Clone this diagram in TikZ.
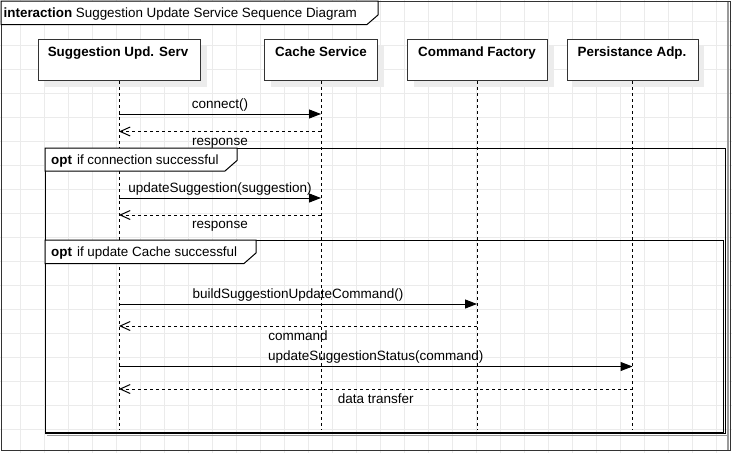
\documentclass[tikz,border=0pt]{standalone}
\usepackage{fontspec}
\setmainfont{Liberation Sans}
\usetikzlibrary{arrows.meta}
\definecolor{gridc}{HTML}{EBEBEB}
\definecolor{edgec}{HTML}{333333}
\definecolor{shadowc}{HTML}{ECECEC}
\definecolor{fshadow}{HTML}{9A9A9A}
\begin{document}
\begin{tikzpicture}[x=1pt,y=-1pt,
  gridline/.style={draw=gridc, line width=0.8pt},
  framebox/.style={draw=black, line width=1pt},
  outerbox/.style={draw=edgec, line width=1pt},
  tabshape/.style={draw=black, fill=white, line width=1pt},
  headbox/.style={draw=edgec, fill=white, line width=1pt, minimum height=41pt, inner sep=0pt, anchor=north},
  headshadow/.style={fill=shadowc, draw=none, minimum height=41pt, inner sep=0pt, anchor=north},
  headtxt/.style={font=\bfseries\fontsize{13.4}{16}\selectfont, anchor=base, inner sep=0pt},
  lifeline/.style={draw=black, line width=1pt, dash pattern=on 3pt off 3pt},
  syncmsg/.style={draw=black, line width=1pt, -{Triangle[length=12pt,width=9pt]}},
  retmsg/.style={draw=black, line width=1pt, dash pattern=on 3pt off 3pt, -{Straight Barb[length=10pt,width=9pt]}},
  lbl/.style={font=\fontsize{13.5}{16}\selectfont, inner sep=0pt, anchor=base},
  tabtxt/.style={font=\fontsize{13.4}{16}\selectfont, inner sep=0pt, anchor=base west}
]
\useasboundingbox (0,0) rectangle (732,453);
\fill[white] (0,0) rectangle (732,453);
% grid
\foreach \gx in {20,44,...,716} \draw[gridline] (\gx,0) -- (\gx,453);
\foreach \gy in {21,45,...,453} \draw[gridline] (0,\gy) -- (732,\gy);

% outer frame
\draw[fshadow, line width=1.5pt] (728,2) -- (728,450);
\draw[outerbox] (1,1) rectangle (730.5,450);

% opt frames
\draw[fshadow, line width=1pt] (47,435) -- (727,435) -- (727,150);
\draw[framebox] (45,148) rectangle (725.5,433.5);
\draw[framebox] (45,240) rectangle (723.5,432);

% lifeline heads (shadows)
\node[headshadow, minimum width=162pt] at (125.5,45.5) {};
\node[headshadow, minimum width=113pt] at (327.5,45.5) {};
\node[headshadow, minimum width=140pt] at (483.5,45.5) {};
\node[headshadow, minimum width=131pt] at (638.5,45.5) {};

% lifeline heads
\node[headbox, minimum width=162pt] (ssh) at (119,39) {};
\node[headbox, minimum width=113pt] (csh) at (321,39) {};
\node[headbox, minimum width=140pt] (cfh) at (477,39) {};
\node[headbox, minimum width=131pt] (pah) at (632.5,39) {};
\node[headtxt] (sst) at (118,56) {Suggestion Upd. Serv};
\node[headtxt] (cst) at (321,56) {Cache Service};
\node[headtxt] (cft) at (477,56) {Command Factory};
\node[headtxt] (pat) at (632,56) {Persistance Adp.};

% lifeline ends
\coordinate (sse) at (119,430);
\coordinate (cse) at (321,430);
\coordinate (cfe) at (477,430);
\coordinate (pae) at (632.5,430);
\draw[lifeline] (ssh.south) -- (sse);
\draw[lifeline] (csh.south) -- (cse);
\draw[lifeline] (cfh.south) -- (cfe);
\draw[lifeline] (pah.south) -- (pae);

% frame tabs
\draw[tabshape] (1,1) -- (378,1) -- (378,15) -- (367,24.5) -- (1,24.5) -- cycle;
\node[tabtxt] (title) at (3.5,17.5) {\textbf{interaction} Suggestion Update Service Sequence Diagram};
\draw[tabshape] (45,148) -- (237,148) -- (237,160.5) -- (225,171) -- (45,171) -- cycle;
\node[tabtxt] (opt1) at (51,164) {\textbf{opt}\hspace{5pt}if connection successful};
\draw[tabshape] (45,240) -- (256,240) -- (256,253) -- (244,263.5) -- (45,263.5) -- cycle;
\node[tabtxt] (opt2) at (51,256) {\textbf{opt}\hspace{5pt}if update Cache successful};

% message end points
\coordinate (m1a) at (119,114);   \coordinate (m1b) at (321,114);
\coordinate (r1a) at (321,131.5); \coordinate (r1b) at (119,131.5);
\coordinate (m2a) at (119,198);   \coordinate (m2b) at (321,198);
\coordinate (r2a) at (321,215);   \coordinate (r2b) at (119,215);
\coordinate (m3a) at (119,304);   \coordinate (m3b) at (477,304);
\coordinate (r3a) at (477,326);   \coordinate (r3b) at (119,326);
\coordinate (m4a) at (119,366.5); \coordinate (m4b) at (632.5,366.5);
\coordinate (r4a) at (632.5,389); \coordinate (r4b) at (119,389);

% messages
\draw[syncmsg] (m1a) -- node[lbl, yshift=6pt] {connect()} (m1b);
\draw[retmsg] (r1a) -- node[lbl, yshift=-13.5pt] {response} (r1b);
\draw[syncmsg] (m2a) -- node[lbl, yshift=6pt] {updateSuggestion(suggestion)} (m2b);
\draw[retmsg] (r2a) -- node[lbl, yshift=-13.5pt] {response} (r2b);
\draw[syncmsg] (m3a) -- node[lbl, yshift=6pt] {buildSuggestionUpdateCommand()} (m3b);
\draw[retmsg] (r3a) -- node[lbl, yshift=-14.5pt] {command} (r3b);
\draw[syncmsg] (m4a) -- node[lbl, yshift=6pt] {updateSuggestionStatus(command)} (m4b);
\draw[retmsg] (r4a) -- node[lbl, yshift=-14pt] {data transfer} (r4b);
\end{tikzpicture}
\end{document}
